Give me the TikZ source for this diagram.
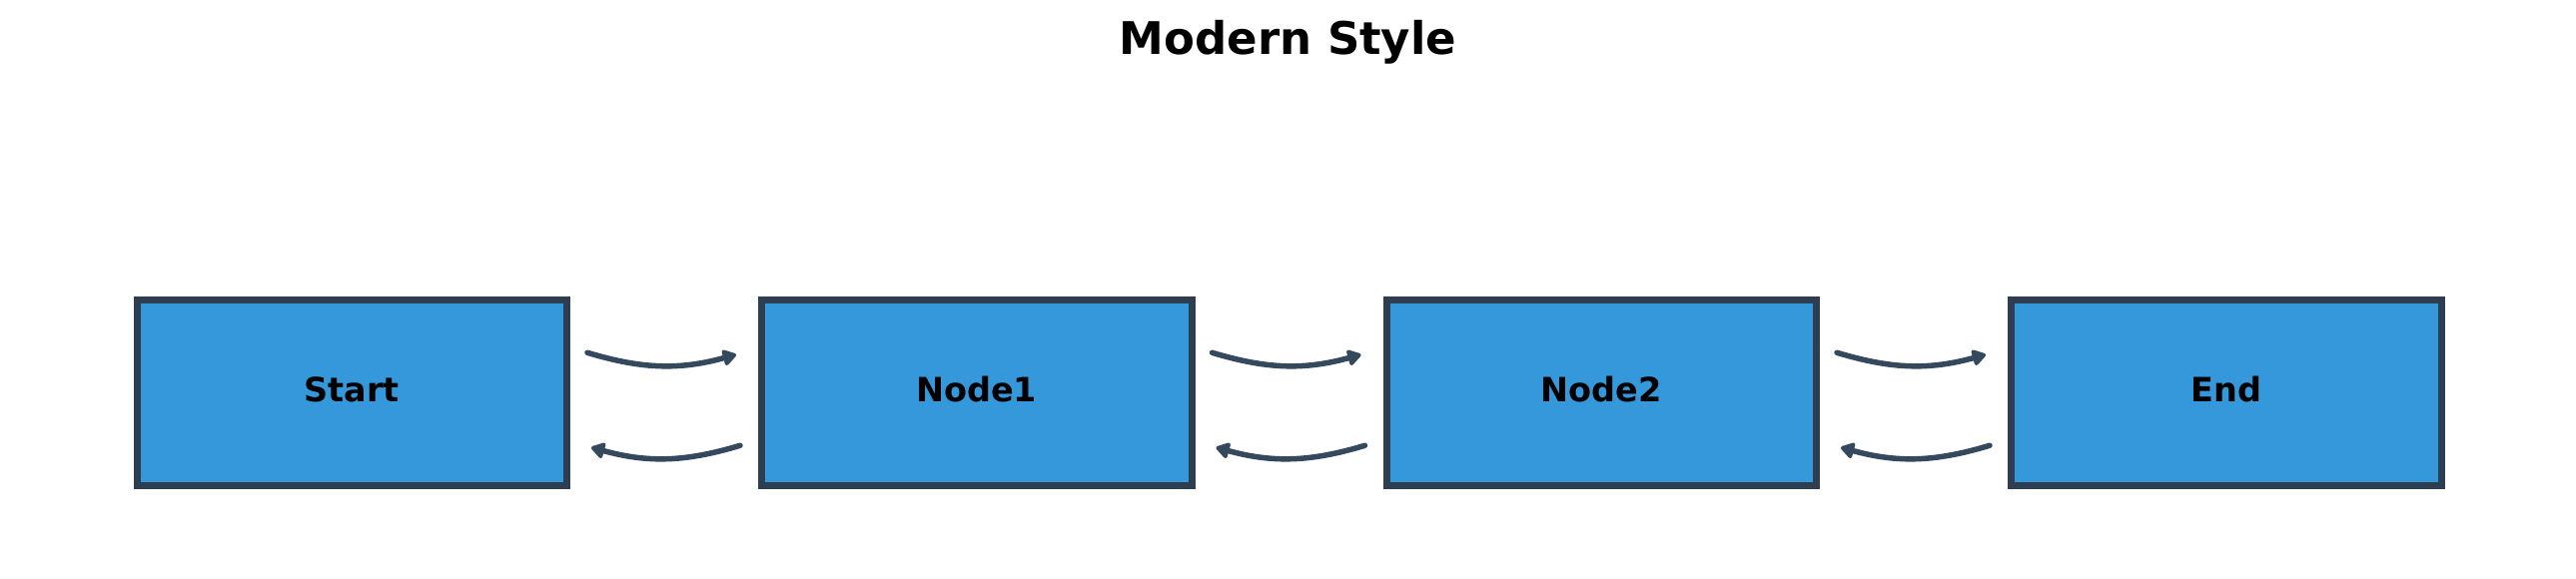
\documentclass[tikz,border=0pt]{standalone}
\usepackage{fontspec}
\setmainfont{DejaVu Sans}
\usetikzlibrary{arrows.meta}
\definecolor{boxfill}{HTML}{3498DB}
\definecolor{boxline}{HTML}{2C3E50}
\definecolor{arrcol}{HTML}{34495E}
\tikzset{
  stepbox/.style={draw=boxline, fill=boxfill, line width=7pt, rectangle,
    minimum width=430.5pt, minimum height=185.5pt, inner sep=0pt,
    font=\fontsize{33.5}{40}\selectfont\bfseries, text depth=6pt},
  conn/.style={draw=arrcol, line width=5.5pt, line cap=round,
    -{Triangle[length=15pt,width=18pt,round]}},
}
\begin{document}
\begin{tikzpicture}[x=1pt,y=-1pt]
\useasboundingbox (0,0) rectangle (2579,580);
\node[font=\fontsize{45}{54}\selectfont\bfseries] (title) at (1289.5,42) {Modern Style};
\node[stepbox] (start) at (352.25,393.25) {Start};
\node[stepbox] (n1) at (977.75,393.25) {Node1};
\node[stepbox] (n2) at (1603.25,393.25) {Node2};
\node[stepbox] (end) at (2228.75,393.25) {End};
\foreach \a/\b in {start/n1, n1/n2, n2/end}{
  \draw[conn] ([xshift=17pt,yshift=40pt]\a.east) to[bend right=16] ([xshift=-22pt,yshift=38pt]\b.west);
  \draw[conn] ([xshift=-18pt,yshift=-53pt]\b.west) to[bend left=16] ([xshift=21pt,yshift=-55pt]\a.east);
}
\end{tikzpicture}
\end{document}
